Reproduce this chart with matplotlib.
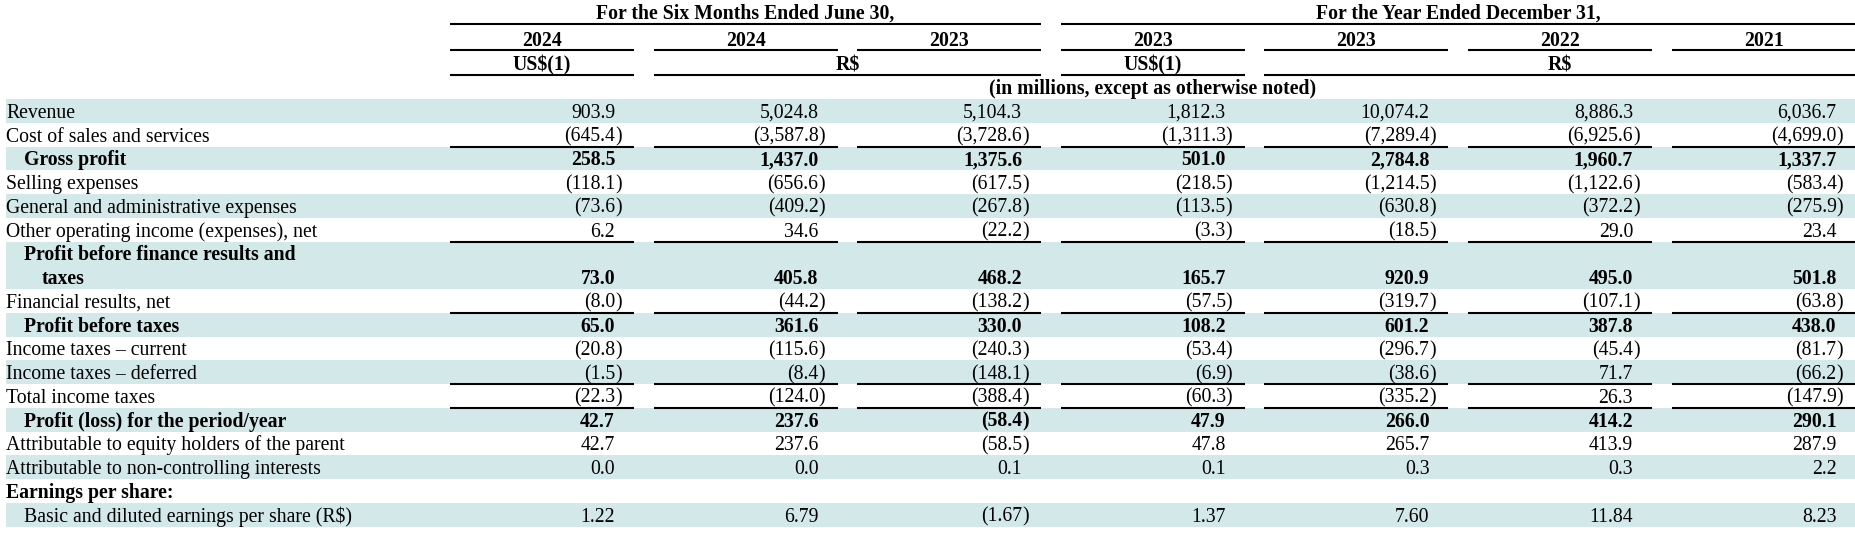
import numpy as np
import matplotlib
matplotlib.use("Agg")
import matplotlib.pyplot as plt

# ---- data (in millions, except EPS) ----
row_labels = [
    "Revenue",
    "Cost of sales and services",
    "Gross profit",
    "Selling expenses",
    "General and administrative expenses",
    "Other operating income (expenses), net",
    "Profit before finance results and\ntaxes",
    "Financial results, net",
    "Profit before taxes",
    "Income taxes \u2013 current",
    "Income taxes \u2013 deferred",
    "Total income taxes",
    "Profit (loss) for the period/year",
    "Attributable to equity holders of the parent",
    "Attributable to non-controlling interests",
    "Earnings per share:",
    "Basic and diluted earnings per share (R$)",
]
years = ["2024", "2024", "2023", "2023", "2023", "2022", "2021"]

revenue = [903.9, 5024.8, 5104.3, 1812.3, 10074.2, 8886.3, 6036.7]
cost_of_sales = [-645.4, -3587.8, -3728.6, -1311.3, -7289.4, -6925.6, -4699.0]
gross_profit = [258.5, 1437.0, 1375.6, 501.0, 2784.8, 1960.7, 1337.7]
selling = [-118.1, -656.6, -617.5, -218.5, -1214.5, -1122.6, -583.4]
general_admin = [-73.6, -409.2, -267.8, -113.5, -630.8, -372.2, -275.9]
other_operating = [6.2, 34.6, -22.2, -3.3, -18.5, 29.0, 23.4]
profit_before_fin = [73.0, 405.8, 468.2, 165.7, 920.9, 495.0, 501.8]
financial_results = [-8.0, -44.2, -138.2, -57.5, -319.7, -107.1, -63.8]
profit_before_tax = [65.0, 361.6, 330.0, 108.2, 601.2, 387.8, 438.0]
tax_current = [-20.8, -115.6, -240.3, -53.4, -296.7, -45.4, -81.7]
tax_deferred = [-1.5, -8.4, -148.1, -6.9, -38.6, 71.7, -66.2]
total_tax = [-22.3, -124.0, -388.4, -60.3, -335.2, 26.3, -147.9]
profit_period = [42.7, 237.6, -58.4, 47.9, 266.0, 414.2, 290.1]
attr_parent = [42.7, 237.6, -58.5, 47.8, 265.7, 413.9, 287.9]
attr_nci = [0.0, 0.0, 0.1, 0.1, 0.3, 0.3, 2.2]
eps = [1.22, 6.79, -1.67, 1.37, 7.60, 11.84, 8.23]

row_values = [revenue, cost_of_sales, gross_profit, selling, general_admin,
              other_operating, profit_before_fin, financial_results,
              profit_before_tax, tax_current, tax_deferred, total_tax,
              profit_period, attr_parent, attr_nci, None, eps]
row_decimals = [1] * 16 + [2]
bold_rows = {2, 6, 8, 12, 15}
indent_rows = {2, 6, 8, 12, 16}
underline_rows = {1, 5, 7, 10, 11}
row_units = [1, 1, 1, 1, 1, 1, 2, 1, 1, 1, 1, 1, 1, 1, 1, 1, 1]

# ---- layout (pixels) ----
W, H = 1855, 544
FONT = "Liberation Serif"
FS = 14.2
SHADE = "#d3e8e9"
LW = 1.5

col_left = 450
col_pitch = 203.6
col_w = 184
top = 99
row_h = 23.75
base_off = 7   # baseline below the middle of a row

fig = plt.figure(figsize=(W / 100, H / 100), dpi=100)
ax = fig.add_axes([0, 0, 1, 1])
ax.set_xlim(0, W)
ax.set_ylim(H, 0)
ax.axis("off")


def cx(i):
    return col_left + i * col_pitch


def hline(x0, x1, y):
    ax.plot([x0, x1], [y, y], color="black", lw=LW, solid_capstyle="butt")


def txt(x, y, s, ha="center", bold=False):
    ax.text(x, y, s, ha=ha, va="baseline", fontsize=FS, family=FONT,
            fontweight="bold" if bold else "normal")


# header
txt((cx(0) + cx(2) + col_w) / 2, 19, "For the Six Months Ended June 30,", bold=True)
txt((cx(3) + cx(6) + col_w) / 2, 19, "For the Year Ended December 31,", bold=True)
hline(cx(0), cx(2) + col_w, 24)
hline(cx(3), cx(6) + col_w, 24)
for i, yr in enumerate(years):
    txt(cx(i) + col_w / 2, 45.5, yr, bold=True)
    hline(cx(i), cx(i) + col_w, 50)

currency_spans = [(0, 0, "US$(1)"), (1, 2, "R$"), (3, 3, "US$(1)"), (4, 6, "R$")]
for a, b, lab in currency_spans:
    txt((cx(a) + cx(b) + col_w) / 2, 70.5, lab, bold=True)
    hline(cx(a), cx(b) + col_w, 75)
txt((cx(0) + cx(6) + col_w) / 2, 94, "(in millions, except as otherwise noted)", bold=True)

# body
y = top
for r, lab in enumerate(row_labels):
    n = row_units[r]
    if r % 2 == 0:
        ax.add_patch(plt.Rectangle((6, y), W - 6, n * row_h, color=SHADE, lw=0))
    bold = r in bold_rows
    x_lab = 24 if r in indent_rows else 6
    if n == 2:
        line1, line2 = lab.split("\n")
        txt(x_lab, y + row_h / 2 + base_off, line1, ha="left", bold=bold)
        txt(42, y + row_h * 1.5 + base_off, line2, ha="left", bold=bold)
    else:
        txt(x_lab, y + row_h / 2 + base_off, lab, ha="left", bold=bold)
    vals = row_values[r]
    if vals is not None:
        yv = y + (n - 0.5) * row_h + base_off
        for i, v in enumerate(vals):
            xr = cx(i) + col_w - 19
            s = f"{abs(v):,.{row_decimals[r]}f}"
            if v < 0:
                txt(xr, yv, "(" + s, ha="right", bold=bold)
                txt(xr, yv, ")", ha="left", bold=bold)
            else:
                txt(xr, yv, s, ha="right", bold=bold)
    y += n * row_h
    if r in underline_rows:
        for i in range(7):
            hline(cx(i), cx(i) + col_w, y)

fig.savefig("out.png", dpi=100)
